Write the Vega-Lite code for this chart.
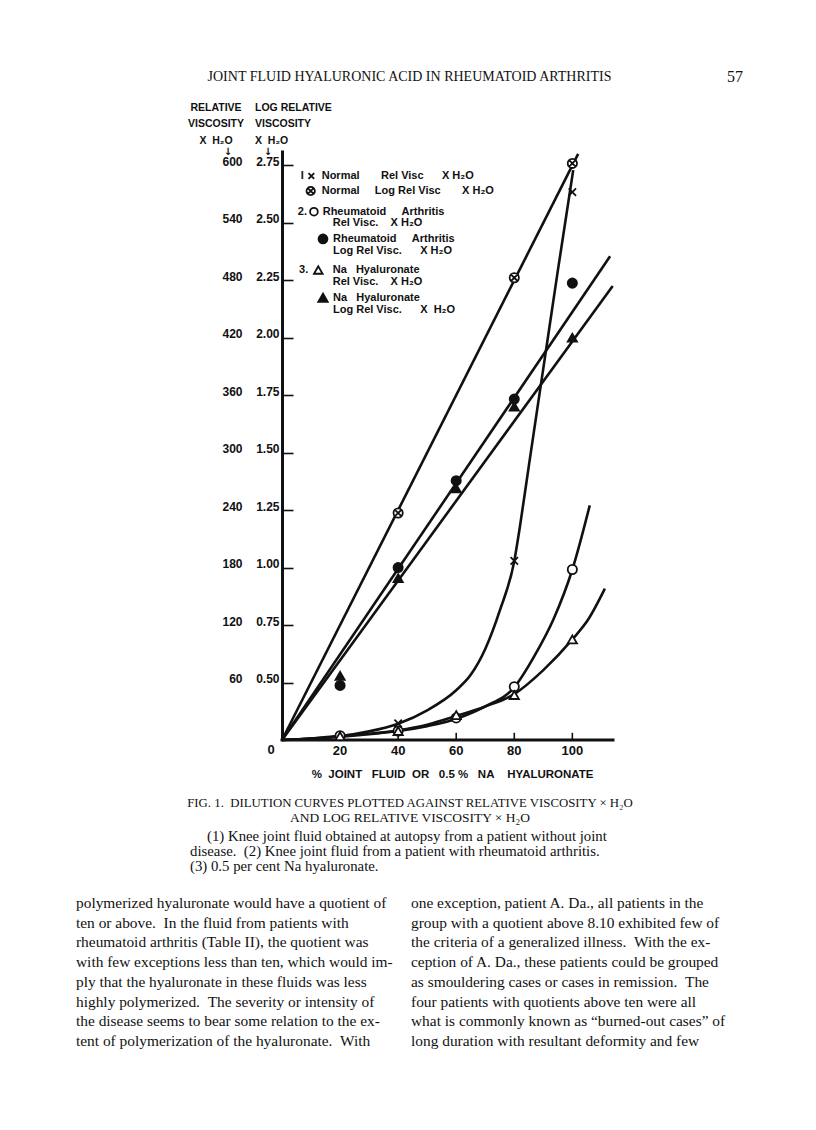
{
"$schema":"https://vega.github.io/schema/vega-lite/v6.json",
"width":331,"height":590,
"autosize":{"type":"none"},
"padding":{"left":282,"top":150,"right":203,"bottom":390},
"background":"white",
"config":{"view":{"stroke":null},"axis":{"grid":false}},
"resolve":{"axis":{"y":"independent"}},
"layer":[
{"data":{"values":[
{"s":"n","x":0,"y":0},{"s":"n","x":10,"y":1.5},{"s":"n","x":20,"y":4},{"s":"n","x":30,"y":9},{"s":"n","x":40,"y":17},{"s":"n","x":50,"y":31},{"s":"n","x":60,"y":52},{"s":"n","x":65,"y":68},{"s":"n","x":70,"y":95},{"s":"n","x":75,"y":135},{"s":"n","x":80,"y":187},{"s":"n","x":82,"y":224},{"s":"n","x":85,"y":286},{"s":"n","x":90,"y":388},{"s":"n","x":95,"y":490},{"s":"n","x":100.3,"y":595},
{"s":"a","x":0,"y":0},{"s":"a","x":10,"y":1.5},{"s":"a","x":20,"y":4.5},{"s":"a","x":30,"y":6.5},{"s":"a","x":40,"y":9.5},{"s":"a","x":50,"y":14.5},{"s":"a","x":60,"y":22},{"s":"a","x":70,"y":35},{"s":"a","x":80,"y":55},{"s":"a","x":87,"y":88},{"s":"a","x":93.5,"y":126},{"s":"a","x":100,"y":178},{"s":"a","x":106,"y":245},
{"s":"h","x":0,"y":0},{"s":"h","x":10,"y":1},{"s":"h","x":20,"y":3.5},{"s":"h","x":30,"y":6},{"s":"h","x":40,"y":10},{"s":"h","x":50,"y":16},{"s":"h","x":60,"y":25},{"s":"h","x":70,"y":35},{"s":"h","x":80,"y":48},{"s":"h","x":90,"y":73},{"s":"h","x":100,"y":105},{"s":"h","x":105.5,"y":126},{"s":"h","x":111.2,"y":158}
]},
"mark":{"type":"line","interpolate":"monotone","stroke":"#111","strokeWidth":2.6},
"encoding":{
"x":{"field":"x","type":"quantitative","scale":{"domain":[0,114],"nice":false,"zero":false},"axis":null},
"y":{"field":"y","type":"quantitative","scale":{"domain":[0,616],"nice":false,"zero":false},
"axis":{"orient":"left","values":[60,120,180,240,300,360,420,480,540,600],"title":null,"domainColor":"#111","domainWidth":3,"tickColor":"#111","tickWidth":1.6,"tickSize":-11,"labelFont":"Liberation Sans","labelFontWeight":"bold","labelFontSize":12,"labelColor":"#111","labelPadding":51,"labelBaseline":"alphabetic","labelFlush":false}},
"detail":{"field":"s"}}},
{"data":{"values":[
{"s":"nl","x":0,"y":0},{"s":"nl","x":102,"y":612},
{"s":"al","x":0,"y":0},{"s":"al","x":113,"y":505},
{"s":"hl","x":0,"y":0},{"s":"hl","x":113.9,"y":474}
]},
"mark":{"type":"line","stroke":"#111","strokeWidth":2.6},
"encoding":{
"x":{"field":"x","type":"quantitative","axis":null},
"y":{"field":"y","type":"quantitative","axis":{"orient":"left","values":[60,120,180,240,300,360,420,480,540,600],"title":null,"domain":false,"ticks":false,"tickSize":0,"labelExpr":"format(datum.value/240+0.25,'.2f')","labelFont":"Liberation Sans","labelFontWeight":"bold","labelFontSize":12,"labelColor":"#111","labelPadding":3,"labelBaseline":"alphabetic","labelFlush":false}},
"detail":{"field":"s"}}},
{"data":{"values":[{"k":0}]},"mark":{"type":"rule","stroke":"#111","strokeWidth":3,"strokeCap":"square"},
"encoding":{"x":{"datum":0,"type":"quantitative","axis":null},"x2":{"datum":114},"y":{"datum":0,"type":"quantitative","axis":null}}},
{"data":{"values":[{"v":20},{"v":40},{"v":60},{"v":80},{"v":100}]},"mark":{"type":"rule","stroke":"#111","strokeWidth":1.6},
"encoding":{"x":{"field":"v","type":"quantitative","axis":null},"y":{"datum":0,"type":"quantitative","axis":null},"y2":{"datum":7.5}}},
{"data":{"values":[{"v":20},{"v":40},{"v":60},{"v":80},{"v":100}]},"mark":{"type":"text","align":"center","baseline":"middle","font":"Liberation Sans","fontWeight":"bold","fontSize":13,"fill":"#111"},
"encoding":{"x":{"field":"v","type":"quantitative","axis":null},"y":{"datum":-11.2,"type":"quantitative","axis":null},"text":{"field":"v","type":"quantitative"}}},
{"data":{"values":[
{"s":"n","x":40,"y":17.4},{"s":"n","x":80,"y":187},{"s":"n","x":100,"y":572},
{"s":"nl","x":40,"y":237},{"s":"nl","x":80,"y":482.6},{"s":"nl","x":100,"y":602},
{"s":"a","x":20,"y":4.5},{"s":"a","x":40,"y":9.4},{"s":"a","x":60,"y":23},{"s":"a","x":80,"y":55.7},{"s":"a","x":100,"y":178},
{"s":"al","x":20,"y":57},{"s":"al","x":40,"y":180},{"s":"al","x":60,"y":270.7},{"s":"al","x":80,"y":356},{"s":"al","x":100,"y":477},
{"s":"h","x":20,"y":4},{"s":"h","x":40,"y":9.4},{"s":"h","x":60,"y":26},{"s":"h","x":80,"y":47},{"s":"h","x":100,"y":105},
{"s":"hl","x":20,"y":67},{"s":"hl","x":40,"y":169},{"s":"hl","x":60,"y":262.7},{"s":"hl","x":80,"y":348},{"s":"hl","x":100,"y":420}
]},
"mark":{"type":"point","filled":true,"stroke":"#111","strokeWidth":1.8,"opacity":1,"size":85},
"encoding":{
"x":{"field":"x","type":"quantitative","axis":null},
"y":{"field":"y","type":"quantitative","axis":null},
"shape":{"field":"s","type":"nominal","scale":{"domain":["n","nl","a","al","h","hl"],"range":["M-0.8,-0.8L0.8,0.8M0.8,-0.8L-0.8,0.8","M1,0A1,1,0,1,1,-1,0A1,1,0,1,1,1,0Z M-0.7,-0.7L0.7,0.7M0.7,-0.7L-0.7,0.7","circle","circle","triangle-up","triangle-up"]},"legend":null},
"fill":{"field":"s","type":"nominal","scale":{"domain":["n","nl","a","al","h","hl"],"range":["#111","white","white","#111","white","#111"]},"legend":null}}},
{"data":{"values":[{"s":"n"}]},"mark":{"type":"point","filled":true,"stroke":"#111","strokeWidth":1.8,"opacity":1,"size":50},
"encoding":{"x":{"datum":10.1,"type":"quantitative","axis":null},"y":{"datum":588.9,"type":"quantitative","axis":null},"shape":{"field":"s","type":"nominal","legend":null},"fill":{"field":"s","type":"nominal","legend":null}}},
{"data":{"values":[{"s":"nl"}]},"mark":{"type":"point","filled":true,"stroke":"#111","strokeWidth":1.8,"opacity":1,"size":70},
"encoding":{"x":{"datum":9.88,"type":"quantitative","axis":null},"y":{"datum":573.2,"type":"quantitative","axis":null},"shape":{"field":"s","type":"nominal","legend":null},"fill":{"field":"s","type":"nominal","legend":null}}},
{"data":{"values":[{"s":"a"}]},"mark":{"type":"point","filled":true,"stroke":"#111","strokeWidth":1.8,"opacity":1,"size":60},
"encoding":{"x":{"datum":11.0,"type":"quantitative","axis":null},"y":{"datum":551.6,"type":"quantitative","axis":null},"shape":{"field":"s","type":"nominal","legend":null},"fill":{"field":"s","type":"nominal","legend":null}}},
{"data":{"values":[{"s":"al"}]},"mark":{"type":"point","filled":true,"stroke":"#111","strokeWidth":1.8,"opacity":1,"size":80},
"encoding":{"x":{"datum":14.12,"type":"quantitative","axis":null},"y":{"datum":523.1,"type":"quantitative","axis":null},"shape":{"field":"s","type":"nominal","legend":null},"fill":{"field":"s","type":"nominal","legend":null}}},
{"data":{"values":[{"s":"h"}]},"mark":{"type":"point","filled":true,"stroke":"#111","strokeWidth":1.8,"opacity":1,"size":75},
"encoding":{"x":{"datum":12.5,"type":"quantitative","axis":null},"y":{"datum":490.7,"type":"quantitative","axis":null},"shape":{"field":"s","type":"nominal","legend":null},"fill":{"field":"s","type":"nominal","legend":null}}},
{"data":{"values":[{"s":"hl"}]},"mark":{"type":"point","filled":true,"stroke":"#111","strokeWidth":1.8,"opacity":1,"size":90},
"encoding":{"x":{"datum":14.12,"type":"quantitative","axis":null},"y":{"datum":461.8,"type":"quantitative","axis":null},"shape":{"field":"s","type":"nominal","legend":null},"fill":{"field":"s","type":"nominal","legend":null}}},
{"data":{"values":[{"t":"I"}]},"mark":{"type":"text","align":"center","baseline":"middle","font":"Liberation Sans","fontWeight":"bold","fontSize":11,"fill":"#111"},
"encoding":{"x":{"datum":7.0,"type":"quantitative","axis":null},"y":{"datum":588.9,"type":"quantitative","axis":null},"text":{"field":"t"}}},
{"data":{"values":[{"t":"Normal\u00a0\u00a0\u00a0\u00a0\u00a0\u00a0\u00a0Rel Visc\u00a0\u00a0\u00a0\u00a0\u00a0\u00a0X\u00a0H₂O"}]},"mark":{"type":"text","align":"left","baseline":"middle","font":"Liberation Sans","fontWeight":"bold","fontSize":11,"fill":"#111"},
"encoding":{"x":{"datum":13.67,"type":"quantitative","axis":null},"y":{"datum":588.9,"type":"quantitative","axis":null},"text":{"field":"t"}}},
{"data":{"values":[{"t":"Normal\u00a0\u00a0\u00a0\u00a0\u00a0Log Rel Visc\u00a0\u00a0\u00a0\u00a0\u00a0\u00a0\u00a0X\u00a0H₂O"}]},"mark":{"type":"text","align":"left","baseline":"middle","font":"Liberation Sans","fontWeight":"bold","fontSize":11,"fill":"#111"},
"encoding":{"x":{"datum":13.67,"type":"quantitative","axis":null},"y":{"datum":573.2,"type":"quantitative","axis":null},"text":{"field":"t"}}},
{"data":{"values":[{"t":"2."}]},"mark":{"type":"text","align":"right","baseline":"middle","font":"Liberation Sans","fontWeight":"bold","fontSize":11,"fill":"#111"},
"encoding":{"x":{"datum":8.61,"type":"quantitative","axis":null},"y":{"datum":551.6,"type":"quantitative","axis":null},"text":{"field":"t"}}},
{"data":{"values":[{"t":"Rheumatoid\u00a0\u00a0\u00a0\u00a0\u00a0Arthritis"}]},"mark":{"type":"text","align":"left","baseline":"middle","font":"Liberation Sans","fontWeight":"bold","fontSize":11,"fill":"#111"},
"encoding":{"x":{"datum":14.02,"type":"quantitative","axis":null},"y":{"datum":551.6,"type":"quantitative","axis":null},"text":{"field":"t"}}},
{"data":{"values":[{"t":"Rel Visc.\u00a0\u00a0\u00a0\u00a0X\u00a0H₂O"}]},"mark":{"type":"text","align":"left","baseline":"middle","font":"Liberation Sans","fontWeight":"bold","fontSize":11,"fill":"#111"},
"encoding":{"x":{"datum":17.46,"type":"quantitative","axis":null},"y":{"datum":539.5,"type":"quantitative","axis":null},"text":{"field":"t"}}},
{"data":{"values":[{"t":"Rheumatoid\u00a0\u00a0\u00a0\u00a0\u00a0Arthritis\nLog Rel Visc.\u00a0\u00a0\u00a0\u00a0\u00a0\u00a0X\u00a0H₂O"}]},"mark":{"type":"text","align":"left","baseline":"middle","lineBreak":"\n","lineHeight":11.7,"font":"Liberation Sans","fontWeight":"bold","fontSize":11,"fill":"#111"},
"encoding":{"x":{"datum":17.56,"type":"quantitative","axis":null},"y":{"datum":523.1,"type":"quantitative","axis":null},"text":{"field":"t"}}},
{"data":{"values":[{"t":"3."}]},"mark":{"type":"text","align":"right","baseline":"middle","font":"Liberation Sans","fontWeight":"bold","fontSize":11,"fill":"#111"},
"encoding":{"x":{"datum":9.06,"type":"quantitative","axis":null},"y":{"datum":490.7,"type":"quantitative","axis":null},"text":{"field":"t"}}},
{"data":{"values":[{"t":"Na\u00a0\u00a0\u00a0Hyaluronate\nRel Visc.\u00a0\u00a0\u00a0\u00a0X\u00a0H₂O"}]},"mark":{"type":"text","align":"left","baseline":"middle","lineBreak":"\n","lineHeight":11.7,"font":"Liberation Sans","fontWeight":"bold","fontSize":11,"fill":"#111"},
"encoding":{"x":{"datum":17.46,"type":"quantitative","axis":null},"y":{"datum":490.7,"type":"quantitative","axis":null},"text":{"field":"t"}}},
{"data":{"values":[{"t":"Na\u00a0\u00a0\u00a0Hyaluronate\nLog Rel Visc.\u00a0\u00a0\u00a0\u00a0\u00a0\u00a0X\u00a0\u00a0H₂O"}]},"mark":{"type":"text","align":"left","baseline":"middle","lineBreak":"\n","lineHeight":12.3,"font":"Liberation Sans","fontWeight":"bold","fontSize":11,"fill":"#111"},
"encoding":{"x":{"datum":17.56,"type":"quantitative","axis":null},"y":{"datum":461.8,"type":"quantitative","axis":null},"text":{"field":"t"}}},
{"data":{"values":[{"t":"RELATIVE\nVISCOSITY\nX\u00a0\u00a0H₂O"}]},"mark":{"type":"text","align":"center","baseline":"middle","lineBreak":"\n","lineHeight":16.5,"font":"Liberation Sans","fontWeight":"bold","fontSize":10.5,"fill":"#111"},
"encoding":{"x":{"datum":-22.73,"type":"quantitative","axis":null},"y":{"datum":659.9,"type":"quantitative","axis":null},"text":{"field":"t"}}},
{"data":{"values":[{"t":"LOG RELATIVE\nVISCOSITY\nX\u00a0\u00a0H₂O"}]},"mark":{"type":"text","align":"left","baseline":"middle","lineBreak":"\n","lineHeight":16.5,"font":"Liberation Sans","fontWeight":"bold","fontSize":10.5,"fill":"#111"},
"encoding":{"x":{"datum":-9.3,"type":"quantitative","axis":null},"y":{"datum":659.9,"type":"quantitative","axis":null},"text":{"field":"t"}}},
{"data":{"values":[{"t":"↓"}]},"mark":{"type":"text","align":"center","baseline":"middle","font":"DejaVu Sans","fontWeight":"bold","fontSize":10,"fill":"#111"},
"encoding":{"x":{"datum":-18.6,"type":"quantitative","axis":null},"y":{"datum":614.0,"type":"quantitative","axis":null},"text":{"field":"t"}}},
{"data":{"values":[{"t":"↓"}]},"mark":{"type":"text","align":"center","baseline":"middle","font":"DejaVu Sans","fontWeight":"bold","fontSize":10,"fill":"#111"},
"encoding":{"x":{"datum":-4.82,"type":"quantitative","axis":null},"y":{"datum":614.0,"type":"quantitative","axis":null},"text":{"field":"t"}}},
{"data":{"values":[{"t":"0"}]},"mark":{"type":"text","align":"center","baseline":"middle","font":"Liberation Sans","fontWeight":"bold","fontSize":13,"fill":"#111"},
"encoding":{"x":{"datum":-3.79,"type":"quantitative","axis":null},"y":{"datum":-10.5,"type":"quantitative","axis":null},"text":{"field":"t"}}},
{"data":{"values":[{"t":"%\u00a0\u00a0JOINT\u00a0\u00a0\u00a0FLUID\u00a0\u00a0OR\u00a0\u00a0\u00a00.5\u00a0%\u00a0\u00a0\u00a0NA\u00a0\u00a0\u00a0\u00a0HYALURONATE"}]},"mark":{"type":"text","align":"left","baseline":"middle","font":"Liberation Sans","fontWeight":"bold","fontSize":11.5,"fill":"#111"},
"encoding":{"x":{"datum":10.23,"type":"quantitative","axis":null},"y":{"datum":-36.5,"type":"quantitative","axis":null},"text":{"field":"t"}}},
{"data":{"values":[{"t":"JOINT FLUID HYALURONIC ACID IN RHEUMATOID ARTHRITIS"}]},"mark":{"type":"text","align":"center","baseline":"middle","font":"Liberation Serif","fontSize":14,"fill":"#111"},
"encoding":{"x":{"datum":43.91,"type":"quantitative","axis":null},"y":{"datum":692.2,"type":"quantitative","axis":null},"text":{"field":"t"}}},
{"data":{"values":[{"t":"57"}]},"mark":{"type":"text","align":"center","baseline":"middle","font":"Liberation Serif","fontSize":16,"fill":"#111"},
"encoding":{"x":{"datum":156.0,"type":"quantitative","axis":null},"y":{"datum":692.2,"type":"quantitative","axis":null},"text":{"field":"t"}}},
{"data":{"values":[{"t":"FIG. 1.\u00a0\u00a0DILUTION CURVES PLOTTED AGAINST RELATIVE VISCOSITY × H₂O"}]},"mark":{"type":"text","align":"center","baseline":"middle","font":"Liberation Serif","fontSize":12.8,"fill":"#111"},
"encoding":{"x":{"datum":44.08,"type":"quantitative","axis":null},"y":{"datum":-65.8,"type":"quantitative","axis":null},"text":{"field":"t"}}},
{"data":{"values":[{"t":"AND LOG RELATIVE VISCOSITY × H₂O"}]},"mark":{"type":"text","align":"center","baseline":"middle","font":"Liberation Serif","fontSize":13.5,"fill":"#111"},
"encoding":{"x":{"datum":44.08,"type":"quantitative","axis":null},"y":{"datum":-81.4,"type":"quantitative","axis":null},"text":{"field":"t"}}},
{"data":{"values":[{"t":"(1) Knee joint fluid obtained at autopsy from a patient without joint"}]},"mark":{"type":"text","align":"left","baseline":"middle","font":"Liberation Serif","fontSize":14.8,"fill":"#111"},
"encoding":{"x":{"datum":-25.83,"type":"quantitative","axis":null},"y":{"datum":-101.3,"type":"quantitative","axis":null},"text":{"field":"t"}}},
{"data":{"values":[{"t":"disease.\u00a0\u00a0(2) Knee joint fluid from a patient with rheumatoid arthritis.\n(3) 0.5 per cent Na hyaluronate."}]},"mark":{"type":"text","align":"left","baseline":"middle","lineBreak":"\n","lineHeight":15,"font":"Liberation Serif","fontSize":14.8,"fill":"#111"},
"encoding":{"x":{"datum":-31.69,"type":"quantitative","axis":null},"y":{"datum":-116.9,"type":"quantitative","axis":null},"text":{"field":"t"}}},
{"data":{"values":[{"t":"polymerized hyaluronate would have a quotient of\nten or above.\u00a0\u00a0In the fluid from patients with\nrheumatoid arthritis (Table II), the quotient was\nwith few exceptions less than ten, which would im-\nply that the hyaluronate in these fluids was less\nhighly polymerized.\u00a0\u00a0The severity or intensity of\nthe disease seems to bear some relation to the ex-\ntent of polymerization of the hyaluronate.\u00a0\u00a0With"}]},"mark":{"type":"text","align":"left","baseline":"middle","lineBreak":"\n","lineHeight":19.7,"font":"Liberation Serif","fontSize":15.4,"fill":"#111"},
"encoding":{"x":{"datum":-70.95,"type":"quantitative","axis":null},"y":{"datum":-170.2,"type":"quantitative","axis":null},"text":{"field":"t"}}},
{"data":{"values":[{"t":"one exception, patient A. Da., all patients in the\ngroup with a quotient above 8.10 exhibited few of\nthe criteria of a generalized illness.\u00a0\u00a0With the ex-\nception of A. Da., these patients could be grouped\nas smouldering cases or cases in remission.\u00a0\u00a0The\nfour patients with quotients above ten were all\nwhat is commonly known as “burned-out cases” of\nlong duration with resultant deformity and few"}]},"mark":{"type":"text","align":"left","baseline":"middle","lineBreak":"\n","lineHeight":19.7,"font":"Liberation Serif","fontSize":15.4,"fill":"#111"},
"encoding":{"x":{"datum":44.43,"type":"quantitative","axis":null},"y":{"datum":-170.2,"type":"quantitative","axis":null},"text":{"field":"t"}}}
]
}
